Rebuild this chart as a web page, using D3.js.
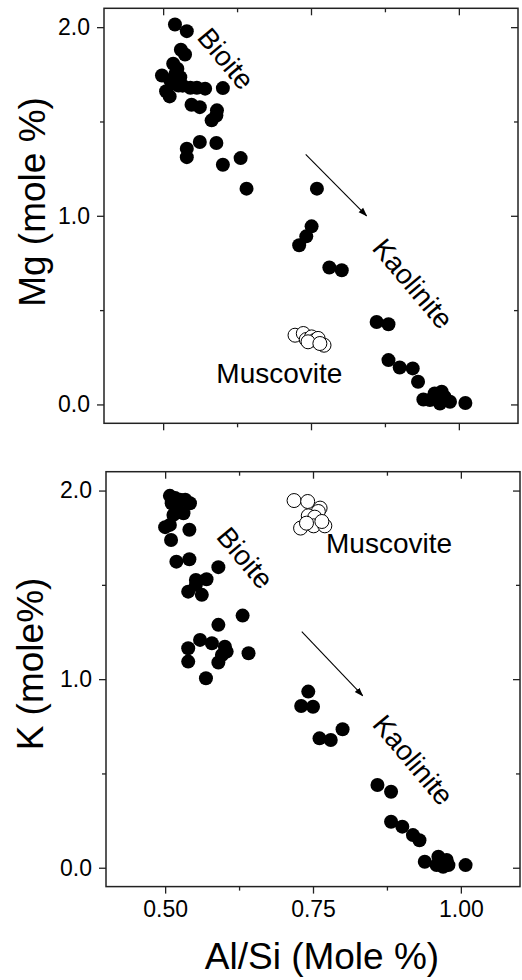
<!DOCTYPE html>
<html>
<head>
<meta charset="utf-8">
<script src="https://cdn.jsdelivr.net/npm/d3@7"></script>
<style>
  body { margin: 0; background: #fff; }
  text { font-family: "Liberation Sans", Arial, sans-serif; }
</style>
</head>
<body>
<div id="chart"></div>
<script>
// Al/Si ratio (x) vs Mg and K (y)
// top panel: Mg vs Al/Si
var mgBiotiteX = [0.520, 0.540, 0.530, 0.537, 0.517, 0.524, 0.521, 0.498, 0.512, 0.526, 0.546, 0.557, 0.571, 0.601,
  0.511, 0.548, 0.562, 0.591, 0.590, 0.582, 0.562, 0.590, 0.540, 0.540, 0.631, 0.601, 0.641,
  0.533, 0.515, 0.505, 0.529];
var mgBiotiteY = [2.014, 1.979, 1.880, 1.855, 1.806, 1.780, 1.753, 1.744, 1.718, 1.691, 1.679, 1.679, 1.674, 1.677,
  1.633, 1.589, 1.576, 1.559, 1.532, 1.506, 1.391, 1.386, 1.356, 1.311, 1.306, 1.271, 1.144,
  1.690, 1.700, 1.660, 1.735];
var mgKaolX = [0.760, 0.751, 0.742, 0.730, 0.781, 0.802, 0.861, 0.881, 0.881, 0.900, 0.922, 0.931,
  0.940, 0.951, 0.959, 0.971, 0.968, 0.976, 0.985, 1.011];
var mgKaolY = [1.144, 0.944, 0.891, 0.844, 0.726, 0.711, 0.437, 0.425, 0.235, 0.196, 0.191, 0.120,
  0.026, 0.023, 0.058, 0.067, 0.005, 0.040, 0.014, 0.008];
var mgMuscX = [0.723, 0.737, 0.742, 0.751, 0.757, 0.762, 0.772, 0.745, 0.765];
var mgMuscY = [0.367, 0.376, 0.344, 0.358, 0.341, 0.350, 0.314, 0.332, 0.323];

// bottom panel: K vs Al/Si
var kBiotiteX = [0.508, 0.517, 0.525, 0.534, 0.542, 0.511, 0.520, 0.531, 0.522, 0.514, 0.500, 0.508, 0.541,
  0.510, 0.519, 0.541, 0.590, 0.552, 0.570, 0.552, 0.539, 0.562, 0.631, 0.590, 0.559, 0.579,
  0.601, 0.604, 0.539, 0.596, 0.641, 0.539, 0.590, 0.569];
var kBiotiteY = [1.972, 1.960, 1.951, 1.951, 1.933, 1.933, 1.915, 1.880, 1.889, 1.871, 1.806, 1.818, 1.792,
  1.738, 1.623, 1.636, 1.594, 1.526, 1.530, 1.500, 1.464, 1.447, 1.337, 1.288, 1.208, 1.190,
  1.172, 1.146, 1.164, 1.128, 1.137, 1.093, 1.088, 1.005];
var kKaolX = [0.742, 0.730, 0.750, 0.800, 0.761, 0.780, 0.859, 0.882, 0.882, 0.901, 0.919, 0.930,
  0.939, 0.962, 0.969, 0.959, 0.979, 0.976, 0.970, 1.008];
var kKaolY = [0.934, 0.858, 0.854, 0.734, 0.686, 0.677, 0.439, 0.403, 0.244, 0.218, 0.173, 0.146,
  0.032, 0.058, 0.032, 0.014, 0.014, 0.041, 0.005, 0.014];
var kMuscX = [0.718, 0.741, 0.762, 0.759, 0.742, 0.753, 0.729, 0.751, 0.770, 0.765, 0.739];
var kMuscY = [1.947, 1.942, 1.907, 1.889, 1.866, 1.859, 1.801, 1.813, 1.813, 1.836, 1.827];

var xMajorTicks = [0.50, 0.75, 1.00];
var xMinorTicks = [0.625, 0.875];
var yMajorTicks = [0.0, 1.0, 2.0];
var yMinorTicks = [0.5, 1.5];

var xTitle = "Al/Si (Mole %)";
var yTitles = ["Mg (mole %)", "K (mole%)"];

// labels and arrows in data units
var mgLabels = [
  { text: "Bioite", x: 0.606, y: 1.833, rot: 50, mid: true },
  { text: "Kaolinite", x: 0.922, y: 0.640, rot: 50, mid: true },
  { text: "Muscovite", x: 0.590, y: 0.111, rot: 0, mid: false }
];
var kLabels = [
  { text: "Bioite", x: 0.635, y: 1.643, rot: 50, mid: true },
  { text: "Kaolinite", x: 0.919, y: 0.571, rot: 50, mid: true },
  { text: "Muscovite", x: 0.772, y: 1.670, rot: 0, mid: false }
];
var mgArrow = [[0.741, 1.326], [0.844, 1.0]];
var kArrow = [[0.731, 1.252], [0.834, 0.912]];

function zip(xs, ys) {
  var res = [];
  for (var i = 0; i < xs.length; i++) res.push({ x: xs[i], y: ys[i] });
  return res;
}

var W = 522, H = 980;
var svg = d3.select("#chart").append("svg")
  .attr("width", W).attr("height", H);

svg.append("defs").append("marker")
  .attr("id", "head")
  .attr("viewBox", "0 0 10 10")
  .attr("refX", 9).attr("refY", 5)
  .attr("markerWidth", 9).attr("markerHeight", 9)
  .attr("markerUnits", "userSpaceOnUse")
  .attr("orient", "auto")
  .append("path").attr("d", "M0,1.5 L10,5 L0,8.5 Z").attr("fill", "#000");

var panels = [
  { x0: 104, x1: 518, y0: 8.3, y1: 423.3, filled: [zip(mgBiotiteX, mgBiotiteY), zip(mgKaolX, mgKaolY)],
    open: zip(mgMuscX, mgMuscY), labels: mgLabels, arrow: mgArrow, xLabels: false,
    title: yTitles[0], titleX: 45, titleY: 202 },
  { x0: 106, x1: 520, y0: 471.7, y1: 886.6, filled: [zip(kBiotiteX, kBiotiteY), zip(kKaolX, kKaolY)],
    open: zip(kMuscX, kMuscY), labels: kLabels, arrow: kArrow, xLabels: true,
    title: yTitles[1], titleX: 43, titleY: 664 }
];

panels.forEach(function (p) {
  var x = d3.scaleLinear().domain([0.4, 1.1]).range([p.x0, p.x1]);
  var y = d3.scaleLinear().domain([-0.1, 2.1]).range([p.y1, p.y0]);
  var g = svg.append("g");

  function axis(gen, tx, ty, size, vals, fmt) {
    var a = g.append("g")
      .attr("transform", "translate(" + tx + "," + ty + ")")
      .call(gen.tickValues(vals).tickSize(size).tickSizeOuter(0).tickPadding(size > 0 ? 7 : 0)
        .tickFormat(fmt ? d3.format(fmt) : ""));
    a.select(".domain").remove();
    a.selectAll("line").attr("stroke", "#222").attr("stroke-width", 1.3);
    a.selectAll("text").attr("fill", "#000").style("font-size", "23px")
      .style("font-family", "'Liberation Sans', Arial, sans-serif");
    return a;
  }

  // left (outward, labelled)
  axis(d3.axisLeft(y), p.x0, 0, 7, yMajorTicks, ".1f");
  axis(d3.axisLeft(y), p.x0, 0, 4, yMinorTicks, null);
  // right (inward)
  axis(d3.axisLeft(y), p.x1, 0, 7, yMajorTicks, null);
  axis(d3.axisLeft(y), p.x1, 0, 4, yMinorTicks, null);
  // bottom (outward)
  var bx = axis(d3.axisBottom(x), 0, p.y1, 7, xMajorTicks, p.xLabels ? ".2f" : null);
  bx.selectAll("text").attr("y", 14);
  axis(d3.axisBottom(x), 0, p.y1, 4, xMinorTicks, null);
  // top (inward)
  axis(d3.axisBottom(x), 0, p.y0, 7, xMajorTicks, null);
  axis(d3.axisBottom(x), 0, p.y0, 4, xMinorTicks, null);

  g.append("rect")
    .attr("x", p.x0).attr("y", p.y0)
    .attr("width", p.x1 - p.x0).attr("height", p.y1 - p.y0)
    .attr("fill", "none").attr("stroke", "#222").attr("stroke-width", 1.5);

  // y title
  g.append("text")
    .attr("transform", "translate(" + p.titleX + "," + p.titleY + ") rotate(-90)")
    .attr("text-anchor", "middle")
    .style("font-size", "37px")
    .text(p.title);

  // arrow
  g.append("line")
    .attr("x1", x(p.arrow[0][0])).attr("y1", y(p.arrow[0][1]))
    .attr("x2", x(p.arrow[1][0])).attr("y2", y(p.arrow[1][1]))
    .attr("stroke", "#000").attr("stroke-width", 1.1)
    .attr("marker-end", "url(#head)");

  // filled points
  p.filled.forEach(function (set) {
    g.selectAll(null)
      .data(set)
      .enter()
      .append("circle")
      .attr("cx", function (d) { return x(d.x); })
      .attr("cy", function (d) { return y(d.y); })
      .attr("r", 7)
      .attr("fill", "#000");
  });

  // open points
  g.selectAll(null)
    .data(p.open)
    .enter()
    .append("circle")
    .attr("cx", function (d) { return x(d.x); })
    .attr("cy", function (d) { return y(d.y); })
    .attr("r", 7)
    .attr("fill", "#fff")
    .attr("stroke", "#000")
    .attr("stroke-width", 1);

  // labels
  p.labels.forEach(function (l) {
    var t = g.append("text")
      .attr("transform", "translate(" + x(l.x) + "," + y(l.y) + ") rotate(" + l.rot + ")")
      .style("font-size", "28px")
      .text(l.text);
    if (l.mid) t.attr("text-anchor", "middle").attr("dominant-baseline", "central");
  });
});

// x title
svg.append("text")
  .attr("x", 322).attr("y", 969)
  .attr("text-anchor", "middle")
  .style("font-size", "37px")
  .text(xTitle);
</script>
</body>
</html>
